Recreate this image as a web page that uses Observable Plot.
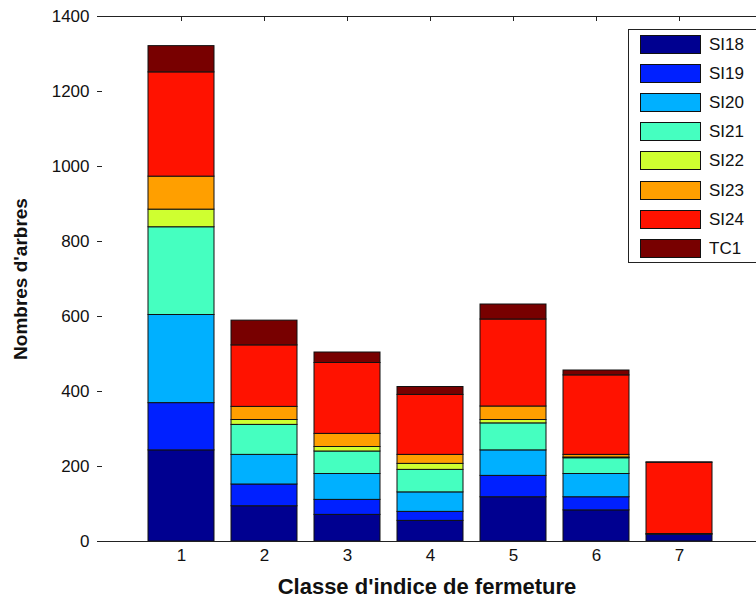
<!DOCTYPE html>
<html>
<head>
<meta charset="utf-8">
<script src="https://cdn.jsdelivr.net/npm/d3@7"></script>
<script src="https://cdn.jsdelivr.net/npm/@observablehq/plot@0.6"></script>
<style>
  html, body { margin: 0; padding: 0; background: #fff; overflow: hidden; }
  #wrap { position: relative; width: 756px; height: 601px; font-family: "Liberation Sans", Arial, sans-serif; }
  #legend { position: absolute; left: 628px; top: 29px; width: 140px; height: 234px; border: 1px solid #222; background: #fff; box-sizing: border-box; }
  .row { position: absolute; left: 11px; height: 20px; }
  .sw { position: absolute; left: 0; top: 0; width: 61px; height: 19px; border: 1px solid #111; box-sizing: border-box; }
  .lb { position: absolute; left: 69px; top: -1px; font-size: 17px; color: #111; white-space: nowrap; line-height: 21px; }
</style>
</head>
<body>
<div id="wrap"><div id="chart"></div><div id="legend"></div></div>
<script>
const categories = ["1", "2", "3", "4", "5", "6", "7"];
const seriesNames = ["SI18", "SI19", "SI20", "SI21", "SI22", "SI23", "SI24", "TC1"];
const SI18 = [243, 94, 71, 55, 118, 83, 18];
const SI19 = [126, 58, 40, 24, 57, 35, 2];
const SI20 = [235, 79, 69, 52, 68, 62, 0];
const SI21 = [234, 80, 60, 60, 72, 42, 0];
const SI22 = [47, 13, 12, 16, 9, 2, 0];
const SI23 = [88, 35, 35, 24, 36, 7, 0];
const SI24 = [278, 164, 189, 160, 232, 212, 190];
const TC1 = [70, 66, 28, 21, 40, 13, 1];
const seriesColors = ["#000090", "#0020ff", "#00b0ff", "#45ffc0", "#cfff30", "#ff9f00", "#ff1200", "#780000"];
const yTicks = [0, 200, 400, 600, 800, 1000, 1200, 1400];
const xTitle = "Classe d'indice de fermeture";
const yTitle = "Nombres d'arbres";

const seriesValues = [SI18, SI19, SI20, SI21, SI22, SI23, SI24, TC1];
const rows = seriesNames.flatMap((s, j) =>
  categories.map((c, i) => ({cat: c, series: s, value: seriesValues[j][i]})));

const W = 756, H = 601, mL = 97, mT = 16, mB = 60;
const frameW = W - mL, frameH = H - mT - mB;

const chart = Plot.plot({
  width: W,
  height: H,
  marginLeft: mL,
  marginRight: 0,
  marginTop: mT,
  marginBottom: mB,
  style: {fontFamily: "Liberation Sans, Arial, sans-serif", background: "#fff", color: "#111"},
  x: {type: "band", domain: categories, range: [96.5, 764.5], paddingInner: 0.2, paddingOuter: 0.6, align: 0.5},
  y: {domain: [0, 1400], range: [H - mB, mT]},
  color: {domain: seriesNames, range: seriesColors},
  marks: [
    Plot.barY(rows, {x: "cat", y: "value", fill: "series", stroke: "#111", strokeWidth: 1}),
    Plot.ruleY([0, 1400], {stroke: "#222", strokeWidth: 1}),
    Plot.tickY(yTicks, {y: d => d, stroke: "#222", insetRight: frameW - 5}),
    Plot.tickX(categories, {x: d => d, stroke: "#222", insetBottom: frameH - 5}),
    Plot.axisY(yTicks, {tickSize: 0, tickPadding: 8, fontSize: 17, label: null, line: true, stroke: "#222", tickFormat: d => String(d)}),
    Plot.axisX({tickSize: 0, tickPadding: 7, fontSize: 17, label: null}),
    Plot.text([yTitle], {frameAnchor: "left", textAnchor: "middle", lineAnchor: "middle", dx: -77, rotate: -90, fontSize: 19, fontWeight: "bold", fill: "#111", letterSpacing: "2.2px"}),
    Plot.text([xTitle], {frameAnchor: "bottom", textAnchor: "middle", lineAnchor: "middle", dy: 45, fontSize: 22, fontWeight: "bold", fill: "#111", letterSpacing: "1.2px"})
  ]
});
document.getElementById("chart").appendChild(chart);

const legend = document.getElementById("legend");
seriesNames.forEach((s, j) => {
  const row = document.createElement("div");
  row.className = "row";
  row.style.top = (5 + j * 29.1) + "px";
  const sw = document.createElement("div");
  sw.className = "sw";
  sw.style.background = seriesColors[j];
  const lb = document.createElement("div");
  lb.className = "lb";
  lb.textContent = s;
  row.appendChild(sw);
  row.appendChild(lb);
  legend.appendChild(row);
});
</script>
</body>
</html>
